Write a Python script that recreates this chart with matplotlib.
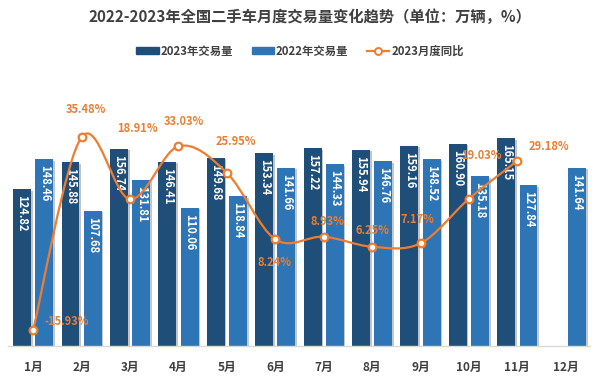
import numpy as np
import matplotlib
matplotlib.use('Agg')
import matplotlib.pyplot as plt
import matplotlib.patheffects as pe
from matplotlib.path import Path
from matplotlib.patches import PathPatch
from matplotlib.lines import Line2D
from matplotlib.patches import Patch

plt.rcParams['font.family'] = ['Noto Sans CJK SC', 'DejaVu Sans']

# данные
months = ['1月', '2月', '3月', '4月', '5月', '6月', '7月', '8月', '9月', '10月', '11月', '12月']
vol_2023 = [124.82, 145.88, 156.74, 146.41, 149.68, 153.34, 157.22, 155.94, 159.16, 160.90, 165.15]
vol_2022 = [148.46, 107.68, 131.81, 110.06, 118.84, 141.66, 144.33, 146.76, 148.52, 135.18, 127.84, 141.64]
yoy_2023 = [-15.93, 35.48, 18.91, 33.03, 25.95, 8.24, 8.93, 6.25, 7.17, 19.03, 29.18]

# смещения подписей процентов (в пикселях)
pct_offsets = [(34, 8), (4, 28), (7, 71), (5, 25), (9, 31), (-1, -23),
               (4, 15), (0, 16), (-3, 24), (12, 43), (32, 14)]

c23 = '#1F4E79'
c22 = '#2E75B6'
corange = '#ED7D31'
cgray = '#404040'

fig = plt.figure(figsize=(6.0, 3.81), dpi=100)
ax = fig.add_axes([8 / 600, 35 / 381, 582 / 600, 266 / 381])
ax2 = ax.twinx()

x = np.arange(len(months))
w = 0.37
off = 0.23
shadow = [pe.SimplePatchShadow(offset=(1.2, -1.2), alpha=0.25), pe.Normal()]
b23 = ax.bar(x[:len(vol_2023)] - off, vol_2023, w, color=c23, zorder=2)
b22 = ax.bar(x + off, vol_2022, w, color=c22, zorder=2)
for b in list(b23) + list(b22):
    b.set_path_effects(shadow)

# подписи столбцов
for xs, vals in ((x[:len(vol_2023)] - off, vol_2023), (x + off, vol_2022)):
    for xi, v in zip(xs, vals):
        ax.annotate(f'{v:.2f}', (xi, v), xytext=(0, -6), textcoords='offset pixels',
                    rotation=-90, ha='center', va='top', color='white',
                    fontsize=8, fontweight='bold', zorder=3)

ax.set_xlim(-0.52, 11.5)
ax.set_ylim(0, 211.4)
ax2.set_ylim(-20.2, 50.7)

# сглаженная линия (кривые Безье через точки)
px = x[:len(yoy_2023)].astype(float)
py = np.array(yoy_2023, dtype=float)
pts = np.column_stack([px, py])
verts = [pts[0]]
codes = [Path.MOVETO]
n = len(pts)
for i in range(n - 1):
    p0 = pts[i - 1] if i > 0 else pts[i]
    p1 = pts[i]
    p2 = pts[i + 1]
    p3 = pts[i + 2] if i + 2 < n else pts[i + 1]
    c1 = p1 + (p2 - p0) / 6
    c2 = p2 - (p3 - p1) / 6
    verts += [c1, c2, p2]
    codes += [Path.CURVE4] * 3
ax2.add_patch(PathPatch(Path(verts, codes), fill=False, edgecolor=corange, lw=1.6, zorder=4))
ax2.plot(px, py, linestyle='none', marker='o', markersize=5.5, markerfacecolor='white',
         markeredgecolor=corange, markeredgewidth=1.6, zorder=5)

for xi, v, (dx, dy) in zip(px, yoy_2023, pct_offsets):
    ax2.annotate(f'{v:.2f}%', (xi, v), xytext=(dx, dy), textcoords='offset pixels',
                 ha='center', va='center', color=corange, fontsize=8, fontweight='bold', zorder=6)

for a in (ax, ax2):
    for s in ('top', 'right', 'left'):
        a.spines[s].set_visible(False)
    a.set_yticks([])
ax2.spines['bottom'].set_visible(False)
ax.spines['bottom'].set_color('#D9D9D9')
ax.spines['bottom'].set_linewidth(1.0)
ax.set_xticks(x)
ax.set_xticklabels(months, fontsize=8.5, fontweight='bold', color=cgray)
ax.tick_params(axis='x', length=0, pad=11)

fig.text(310 / 600, 1 - 17 / 381, '2022-2023年全国二手车月度交易量变化趋势（单位：万辆，%）',
         ha='center', va='center', fontsize=11, fontweight='bold', color=cgray)

handles = [Patch(color=c23), Patch(color=c22),
           Line2D([], [], color=corange, lw=1.6, marker='o', markersize=5,
                  markerfacecolor='white', markeredgecolor=corange, markeredgewidth=1.4)]
fig.legend(handles, ['2023年交易量', '2022年交易量', '2023月度同比'], loc='center',
           bbox_to_anchor=(0.5, 1 - 51 / 381), ncol=3, frameon=False,
           prop={'size': 8.2, 'weight': 'bold'}, labelcolor=cgray,
           handlelength=2.0, handleheight=0.55, handletextpad=0.15, columnspacing=1.6)

fig.savefig('out.png', dpi=100, facecolor='white')
